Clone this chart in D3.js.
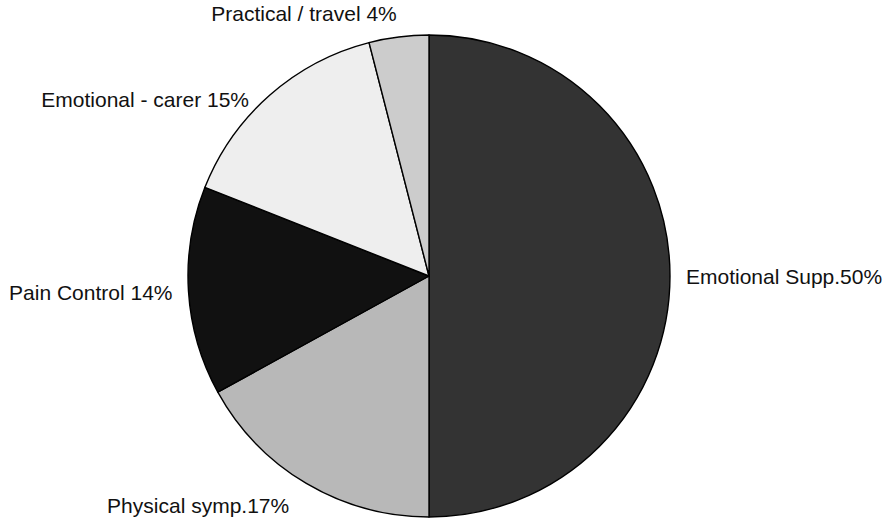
<!DOCTYPE html>
<html>
<head>
<meta charset="utf-8">
<script src="https://cdn.jsdelivr.net/npm/d3@7"></script>
<style>
  html, body { margin: 0; padding: 0; background: #fff; }
  svg { display: block; }
  text { font-family: "Liberation Sans", Arial, Helvetica, sans-serif; fill: #111; }
</style>
</head>
<body>
<svg id="chart" width="885" height="519"></svg>
<script>
// Reasons for referral, share of all referrals (%)
const categories = ["Emotional Supp.", "Physical symp.", "Pain Control", "Emotional - carer", "Practical / travel"];
const shares = [50, 17, 14, 15, 4];
const labelTexts = ["Emotional Supp.50%", "Physical symp.17%", "Pain Control 14%", "Emotional - carer 15%", "Practical / travel 4%"];
const fills = ["#333333", "#b8b8b8", "#111111", "#eeeeee", "#cccccc"];

const width = 885, height = 519;
const cx = 429, cy = 276, radius = 241;
const labelGap = 16;
const fontSize = 21;
const capH = fontSize * 0.716;
// small hand adjustments for labels that sit off the plain radial position
const labelNudge = { "Emotional - carer": [-10, 22], "Physical symp.": [-9, 2] };

const svg = d3.select("#chart");
const g = svg.append("g").attr("transform", `translate(${cx},${cy})`);

const data = categories.map((c, i) => ({ name: c, value: shares[i], label: labelTexts[i], fill: fills[i] }));

const pie = d3.pie().sort(null).value(d => d.value).startAngle(0).endAngle(2 * Math.PI);
const arc = d3.arc().innerRadius(0).outerRadius(radius);
const arcs = pie(data);

g.selectAll("path.slice")
  .data(arcs)
  .join("path")
  .attr("class", "slice")
  .attr("d", arc)
  .attr("fill", d => d.data.fill)
  .attr("stroke", "#000")
  .attr("stroke-width", 1.4)
  .attr("stroke-linejoin", "round");

const R = radius + labelGap;
g.selectAll("text.label")
  .data(arcs)
  .join("text")
  .attr("class", "label")
  .attr("font-size", fontSize)
  .each(function (d) {
    const a = (d.startAngle + d.endAngle) / 2;
    const s = Math.sin(a), c = Math.cos(a);
    const nudge = labelNudge[d.data.name] || [0, 0];
    const x = R * s + nudge[0];
    const y = -R * c + capH / 2 - c * capH / 2 + nudge[1];
    d3.select(this)
      .attr("x", x)
      .attr("y", y)
      .attr("text-anchor", s >= 0 ? "start" : "end")
      .text(d.data.label);
  });
</script>
</body>
</html>
